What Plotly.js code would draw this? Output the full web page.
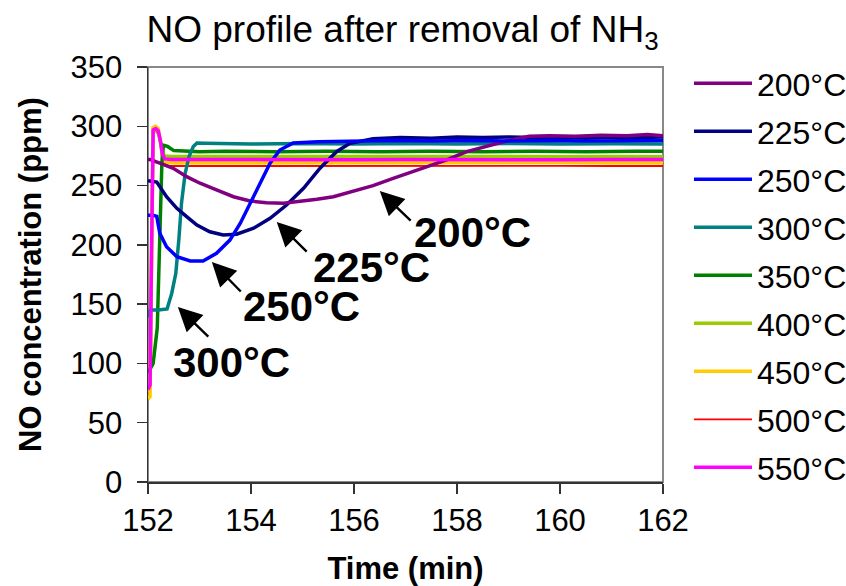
<!DOCTYPE html>
<html>
<head>
<meta charset="utf-8">
<script src="https://cdn.plot.ly/plotly-3.0.1.min.js"></script>
<style>html,body{margin:0;padding:0;background:#fff;}#chart{width:846px;height:586px;}</style>
</head>
<body>
<div id="chart"></div>
<script>
// ---- data ----
var seriesNames = ["200°C","225°C","250°C","300°C","350°C","400°C","450°C","500°C","550°C"];
var seriesColors = ["#800080","#000080","#0000FF","#008080","#008000","#99CC00","#FFCC00","#FF0000","#FF00FF"];

var t200 = [152.00,152.04,152.23,152.49,152.75,153.01,153.33,153.66,153.98,154.30,154.63,154.95,155.28,155.60,155.99,156.37,156.76,157.15,157.54,157.80,158.19,158.58,159.00,159.40,159.80,160.30,160.80,161.30,161.70,162.00];
var v200 = [272,272,269,264.6,257.5,252,246.3,240.6,237,235.6,235,236.4,238.4,240.6,245.7,250,256,262,268,271.6,278.6,283,288,291.5,292,291.5,292.5,292,293,292];

var t225 = [152.00,152.17,152.36,152.56,152.75,152.95,153.20,153.46,153.72,154.05,154.37,154.69,155.02,155.34,155.66,155.92,156.37,156.90,157.50,158.00,158.50,159.00,159.50,160.00,160.50,161.00,161.50,162.00];
var v225 = [254,253,240.6,230.8,223.8,216.7,211,208.3,209,214,222.4,233.6,247.7,264.6,278.6,285.6,289.5,290.5,290,291,290.5,291,290.5,291,290,291,290.5,291];

var t250 = [152.00,152.10,152.17,152.23,152.36,152.56,152.82,153.07,153.33,153.59,153.79,153.98,154.17,154.37,154.56,154.82,155.30,156.00,156.80,157.50,158.30,159.00,159.80,160.50,161.20,162.00];
var v250 = [225,225,224,209.7,198.4,190,186.4,186.4,192.9,204,218,235,252,268.8,280,286,287,287.5,288,287.5,288,287.5,288,287.5,288,288];

var t300 = [152.00,152.04,152.20,152.37,152.46,152.54,152.60,152.65,152.72,152.80,152.88,152.95,153.10,153.50,154.00,155.00,156.00,157.00,158.00,159.00,160.00,161.00,162.00];
var v300 = [139,145,145,146,159,176,205,235,260,275,283,285.8,285.6,285.5,285,285.5,285,285.5,285,285.5,285,285.3,285];

var t350 = [152.00,152.10,152.18,152.23,152.27,152.30,152.38,152.50,152.70,153.00,153.50,154.50,155.50,156.50,157.50,158.50,159.50,160.50,161.50,162.00];
var v350 = [92,100,130,200,270,284,283,279.5,279,278.6,279,278.6,279,278.6,279,278.6,279,278.6,279,279];

var tFast = [152.00,152.04,152.07,152.10,152.15,152.20,152.24,152.28,152.33,152.45,153.00,154.00,155.00,156.00,157.00,158.00,159.00,160.00,161.00,162.00];
var v400 = [80,82,195,296,297,295,287,278,275,274.5,274.5,274.4,274.5,274.4,274.5,274.4,274.5,274.4,274.5,274.4];
var v450 = [70,72,190,299,300,298,288,274,270,269.3,269.3,269.4,269.3,269.3,269.4,269.3,269.3,269.4,269.3,269.3];
var v500 = [74,76,190,295,296,293,284,272,267.5,266.5,266.5,266.6,266.5,266.5,266.6,266.5,266.5,266.6,266.5,266.5];
var v550 = [78,82,200,297,298,296,288,276,272.5,272,272,271.8,272,271.8,272,271.8,272,271.8,272,272];

var xTicks = [152,154,156,158,160,162];
var yTicks = [0,50,100,150,200,250,300,350];

// annotation labels: text, text position, arrow head, arrow tail (data coords)
var labelTexts = ["200°C","225°C","250°C","300°C"];
var labelX = [158.30,156.34,154.99,153.63];
var labelY = [210.8,180.5,147.6,100.5];
var headX = [156.50,154.50,153.24,152.58];
var headY = [245.4,219.3,185.5,147.6];
var tailX = [157.13,155.11,153.83,153.20];
var tailY = [219.3,193.1,159.4,121.4];

// ---- build traces ----
var xs = [t200,t225,t250,t300,t350,tFast,tFast,tFast,tFast];
var ys = [v200,v225,v250,v300,v350,v400,v450,v500,v550];
var widths = [3.5,3.5,3.5,3.5,3.5,3.5,3.5,1.8,3.5];
var traces = [];
var order = [7,6,5,4,3,1,0,2,8];
order.forEach(function(i){
  traces.push({
    x: xs[i], y: ys[i], name: seriesNames[i], type: 'scatter', mode: 'lines',
    line: {color: seriesColors[i], width: widths[i]},
    legendgroup: 'g'+i, legendrank: i+1
  });
});

var annotations = [];
for (var k=0;k<labelTexts.length;k++){
  annotations.push({x: labelX[k], y: labelY[k], xref:'x', yref:'y', text: '<b>'+labelTexts[k]+'</b>',
    showarrow:false, font:{family:'Liberation Sans, Arial, sans-serif', size:42, color:'#000'}});
  annotations.push({x: headX[k], y: headY[k], xref:'x', yref:'y', ax: tailX[k], ay: tailY[k], axref:'x', ayref:'y',
    text:'', showarrow:true, arrowhead:2, arrowsize:2, arrowwidth:2.4, arrowcolor:'#000', standoff:0, startstandoff:0});
}

var layout = {
  width: 846, height: 586,
  margin: {l:148, r:183, t:67, b:104, pad:0},
  paper_bgcolor:'#fff', plot_bgcolor:'#fff',
  font: {family:'Liberation Sans, Arial, sans-serif', color:'#000', size:31},
  title: {text:'NO profile after removal of NH<sub>3</sub>', font:{family:'Liberation Sans, Arial, sans-serif', size:37, color:'#000'},
          x:0.4758, xref:'container', xanchor:'center', y:0.95, yref:'container', yanchor:'middle'},
  xaxis: {range:[152,162], tickvals:xTicks, ticktext:xTicks.map(String), ticks:'outside', ticklen:10, tickwidth:1.5, tickcolor:'#333',
          showline:true, linecolor:'#333', linewidth:1.5, showgrid:false, zeroline:false,
          tickfont:{size:31}, title:{text:'<b>Time (min)</b>', font:{size:31}, standoff:25}},
  yaxis: {range:[0,350], tickvals:yTicks, ticktext:yTicks.map(String), ticks:'outside', ticklen:10, tickwidth:1.5, tickcolor:'#333',
          showline:true, linecolor:'#333', linewidth:1.5, showgrid:false, zeroline:false, ticklabelstandoff:8,
          tickfont:{size:31}, title:{text:'<b>NO concentration (ppm)</b>', font:{size:31}, standoff:19}},
  shapes: [{type:'rect', xref:'paper', yref:'paper', x0:0, x1:1, y0:0, y1:1, line:{color:'#888', width:2}, layer:'below'}],
  annotations: annotations,
  showlegend: true,
  legend: {xref:'container', yref:'container', x:0.8144, xanchor:'left', y:0.9044, yanchor:'top', font:{size:32},
           traceorder:'grouped', tracegroupgap:3.4, itemwidth:58, maxheight:580, bgcolor:'rgba(0,0,0,0)'}
};

Plotly.newPlot('chart', traces, layout, {displayModeBar:false, staticPlot:true});
</script>
</body>
</html>
